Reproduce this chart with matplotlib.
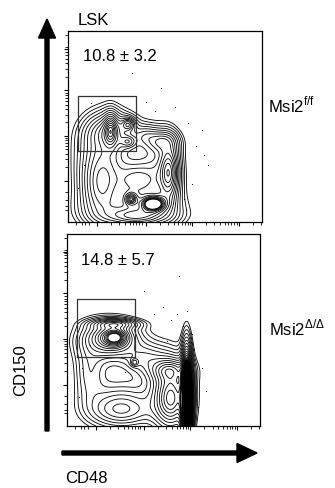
import numpy as np
import matplotlib
matplotlib.use("Agg")
import matplotlib.pyplot as plt

plt.rcParams['font.family'] = ['Liberation Sans', 'DejaVu Sans']
plt.rcParams['mathtext.fontset'] = 'custom'
plt.rcParams['mathtext.rm'] = 'Liberation Sans'

# population components in axis-fraction units: cx, cy, sx, sy, peak height
# (last three of each panel are broad envelopes)
top_cx = [0.22, 0.21, 0.31, 0.31, 0.17, 0.35, 0.52, 0.48, 0.44, 0.325, 0.35, 0.40, 0.20, 0.46, 0.33]
top_cy = [0.48, 0.47, 0.51, 0.42, 0.20, 0.22, 0.26, 0.42, 0.095, 0.12, 0.03, 0.45, 0.38, 0.26, 0.07]
top_sx = [0.02, 0.07, 0.02, 0.025, 0.06, 0.07, 0.03, 0.05, 0.035, 0.02, 0.10, 0.04, 0.09, 0.07, 0.14]
top_sy = [0.05, 0.055, 0.02, 0.02, 0.11, 0.06, 0.09, 0.035, 0.022, 0.02, 0.03, 0.035, 0.12, 0.12, 0.06]
top_h  = [0.6, 0.4, 0.5, 0.4, 0.6, 0.5, 0.8, 0.4, 1.6, 0.8, 0.6, 0.2, 0.3, 0.3, 0.3]

bot_cx = [0.25, 0.22, 0.25, 0.40, 0.54, 0.53, 0.62, 0.28, 0.12, 0.35, 0.22, 0.53, 0.28]
bot_cy = [0.46, 0.46, 0.53, 0.35, 0.14, 0.29, 0.12, 0.08, 0.28, 0.33, 0.44, 0.18, 0.12]
bot_sx = [0.035, 0.07, 0.07, 0.07, 0.05, 0.06, 0.013, 0.10, 0.05, 0.012, 0.10, 0.07, 0.11]
bot_sy = [0.025, 0.045, 0.015, 0.05, 0.09, 0.035, 0.12, 0.05, 0.10, 0.012, 0.07, 0.12, 0.08]
bot_h  = [0.9, 0.5, 0.5, 0.25, 0.8, 0.5, 5.0, 0.3, 0.2, 0.3, 0.3, 0.3, 0.25]

# stray events
top_dx = [0.12, 0.27, 0.33, 0.40, 0.55, 0.62, 0.66, 0.70, 0.58, 0.08, 0.05, 0.48, 0.69, 0.36, 0.60, 0.64, 0.45, 0.72]
top_dy = [0.62, 0.66, 0.78, 0.63, 0.60, 0.52, 0.40, 0.35, 0.28, 0.30, 0.18, 0.70, 0.48, 0.85, 0.12, 0.20, 0.58, 0.30]
bot_dx = [0.54, 0.57, 0.60, 0.62, 0.65, 0.50, 0.45, 0.08, 0.06, 0.12, 0.70, 0.72, 0.66, 0.40, 0.30, 0.58, 0.68, 0.52]
bot_dy = [0.55, 0.58, 0.52, 0.60, 0.48, 0.62, 0.58, 0.30, 0.15, 0.42, 0.30, 0.18, 0.40, 0.70, 0.28, 0.78, 0.10, 0.44]

pct_labels = ['10.8 ± 3.2', '14.8 ± 5.7']
geno_labels = [r'Msi2$^{\mathrm{f/f}}$', r'Msi2$^{\mathrm{\Delta/\Delta}}$']
top_gate = [0.05, 0.35, 0.37, 0.66]   # x0, x1, y0, y1
bot_gate = [0.05, 0.35, 0.36, 0.66]

ring_r = np.linspace(0.35, 2.4, 16)
levels = np.sort(1.4 * np.exp(-0.5 * ring_r ** 2))

y_dec = [0.215, 0.45, 0.69, 0.906]
x_dec = [0.15, 0.40, 0.64, 0.88]

fig = plt.figure(figsize=(3.35, 4.89), dpi=100)


def density(cx, cy, sx, sy, h, nu=6.0):
    g = np.linspace(0, 1, 300)
    X, Y = np.meshgrid(g, g)
    Z = np.zeros_like(X)
    for i in range(len(cx)):
        q = ((X - cx[i]) / sx[i]) ** 2 + ((Y - cy[i]) / sy[i]) ** 2
        Z += h[i] * (1 + q / (2 * nu)) ** (-nu)
    return X, Y, Z


def log_ticks(dec, span):
    minors = []
    for d in dec:
        for k in range(2, 10):
            p = d + span * np.log10(k)
            if p < 1:
                minors.append(p)
    minors += [dec[0] - 0.06, dec[0] - 0.10, dec[0] - 0.13, dec[0] - 0.15]
    return minors


def panel(rect, comps, dots, gate, pct, fill_from=None):
    ax = fig.add_axes(rect)
    X, Y, Z = density(*comps)
    ax.contour(X, Y, Z, levels=levels, colors='black', linewidths=0.6)
    if fill_from is not None:
        Zf = np.where(X > fill_from, Z, 0)
        ax.contourf(X, Y, Zf, levels=[levels[-1], Z.max() + 1], colors='black')
    ax.scatter(dots[0], dots[1], s=0.6, c='black', lw=0)
    ax.plot([gate[0], gate[1], gate[1], gate[0], gate[0]],
            [gate[2], gate[2], gate[3], gate[3], gate[2]], color='#333333', lw=0.9)
    ax.set_xlim(0, 1)
    ax.set_ylim(0, 1)
    ax.set_yticks(y_dec)
    ax.set_yticks(log_ticks(y_dec, 0.235), minor=True)
    ax.set_xticks(x_dec)
    ax.set_xticks([0.04, 0.07, 0.09, 0.11] + [p for p in log_ticks(x_dec, 0.24) if p > 0.15], minor=True)
    ax.tick_params(which='major', length=3, width=0.8, labelleft=False, labelbottom=False)
    ax.tick_params(which='minor', length=2, width=0.6)
    for s in ax.spines.values():
        s.set_linewidth(0.9)
    ax.text(0.075, 0.845, pct, transform=ax.transAxes, fontsize=12)
    return ax


panel([0.203, 0.544, 0.579, 0.391], (top_cx, top_cy, top_sx, top_sy, top_h),
      (top_dx, top_dy), top_gate, pct_labels[0])
panel([0.200, 0.127, 0.576, 0.393], (bot_cx, bot_cy, bot_sx, bot_sy, bot_h),
      (bot_dx, bot_dy), bot_gate, pct_labels[1], fill_from=0.597)

# overlay in pixel units for arrows and labels
ov = fig.add_axes([0, 0, 1, 1])
ov.set_xlim(0, 335)
ov.set_ylim(489, 0)
ov.axis('off')
ov.patch.set_alpha(0)
ov.arrow(47, 432, 0, -412, width=4, head_width=17, head_length=19,
         length_includes_head=True, color='black')
ov.arrow(62, 454, 195, 0, width=4, head_width=19, head_length=20,
         length_includes_head=True, color='black')
ov.text(78, 25, 'LSK', fontsize=12)
ov.text(21, 370, 'CD150', fontsize=12, rotation=90, ha='center', va='center')
ov.text(65, 483, 'CD48', fontsize=12)
ov.text(268, 112, geno_labels[0], fontsize=12)
ov.text(269, 335, geno_labels[1], fontsize=12)

fig.savefig('out.png', dpi=100)
